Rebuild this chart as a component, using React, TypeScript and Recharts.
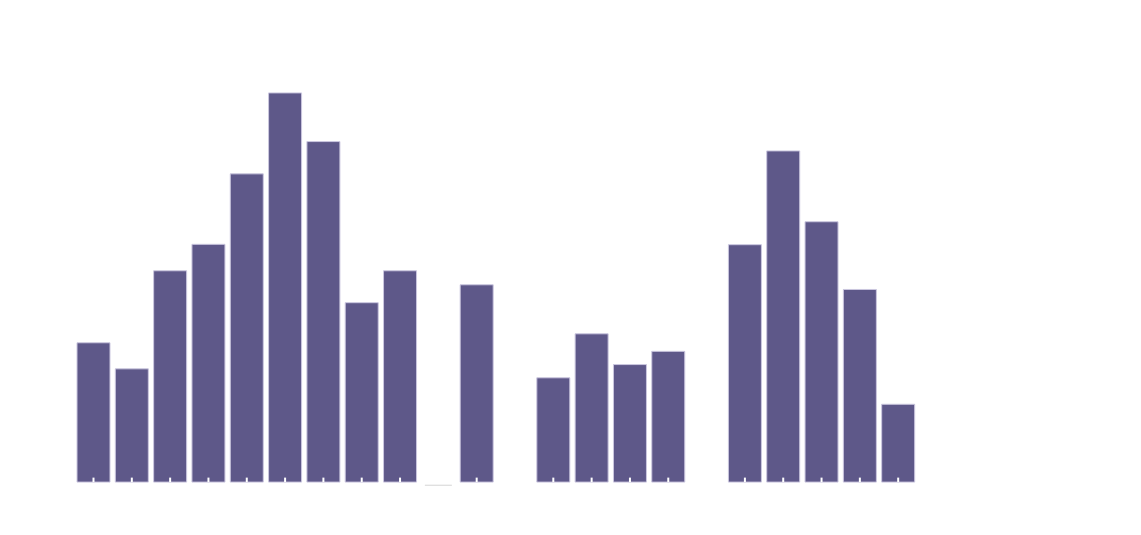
import { BarChart, Bar, XAxis, YAxis, Rectangle } from 'recharts'

const categories = [
  '1', '2', '3', '4', '5', '6', '7', '8', '9', '10', '11',
  '12', '13', '14', '15', '16', '17', '18', '19', '20', '21', '22',
]
const values = [
  35.8, 29.1, 54.3, 61.1, 79.2, 100, 87.5, 46.1, 54.3, -0.8, 50.7,
  null, 26.8, 38.1, 30.2, 33.6, null, 61.0, 85.1, 66.9, 49.5, 20.0,
]

const data = categories.map((name, i) => ({ name, value: values[i] }))

// bar with a small white tick notch at its foot; negative bars show only a faint line
function NotchedBar(props: any) {
  const { x, y, width, height, value } = props
  if (value == null) return null
  const bottom = Math.max(y, y + height)
  const cx = x + width / 2
  if (value < 0) {
    return (
      <line x1={x + 3} x2={x + width - 3} y1={bottom} y2={bottom} stroke="#d4d4d4" strokeWidth={1} />
    )
  }
  return (
    <g>
      <Rectangle x={x} y={y} width={width} height={height} fill="#5e5889" stroke="#cbc7df" strokeWidth={1} />
      <line x1={cx} x2={cx} y1={bottom} y2={bottom - 4.5} stroke="#ffffff" strokeWidth={2} />
    </g>
  )
}

export default function App() {
  return (
    <div style={{ position: 'absolute', left: 0, top: 0, background: '#fff' }}>
      <BarChart
        width={1141}
        height={535}
        data={data}
        margin={{ top: 54, right: 224, bottom: 49, left: 74 }}
      >
        <XAxis dataKey="name" hide />
        <YAxis hide domain={[-1, 110]} />
        <Bar
          dataKey="value"
          fill="#5e5889"
          barSize={33}
          shape={NotchedBar}
          isAnimationActive={false}
        />
      </BarChart>
    </div>
  )
}
